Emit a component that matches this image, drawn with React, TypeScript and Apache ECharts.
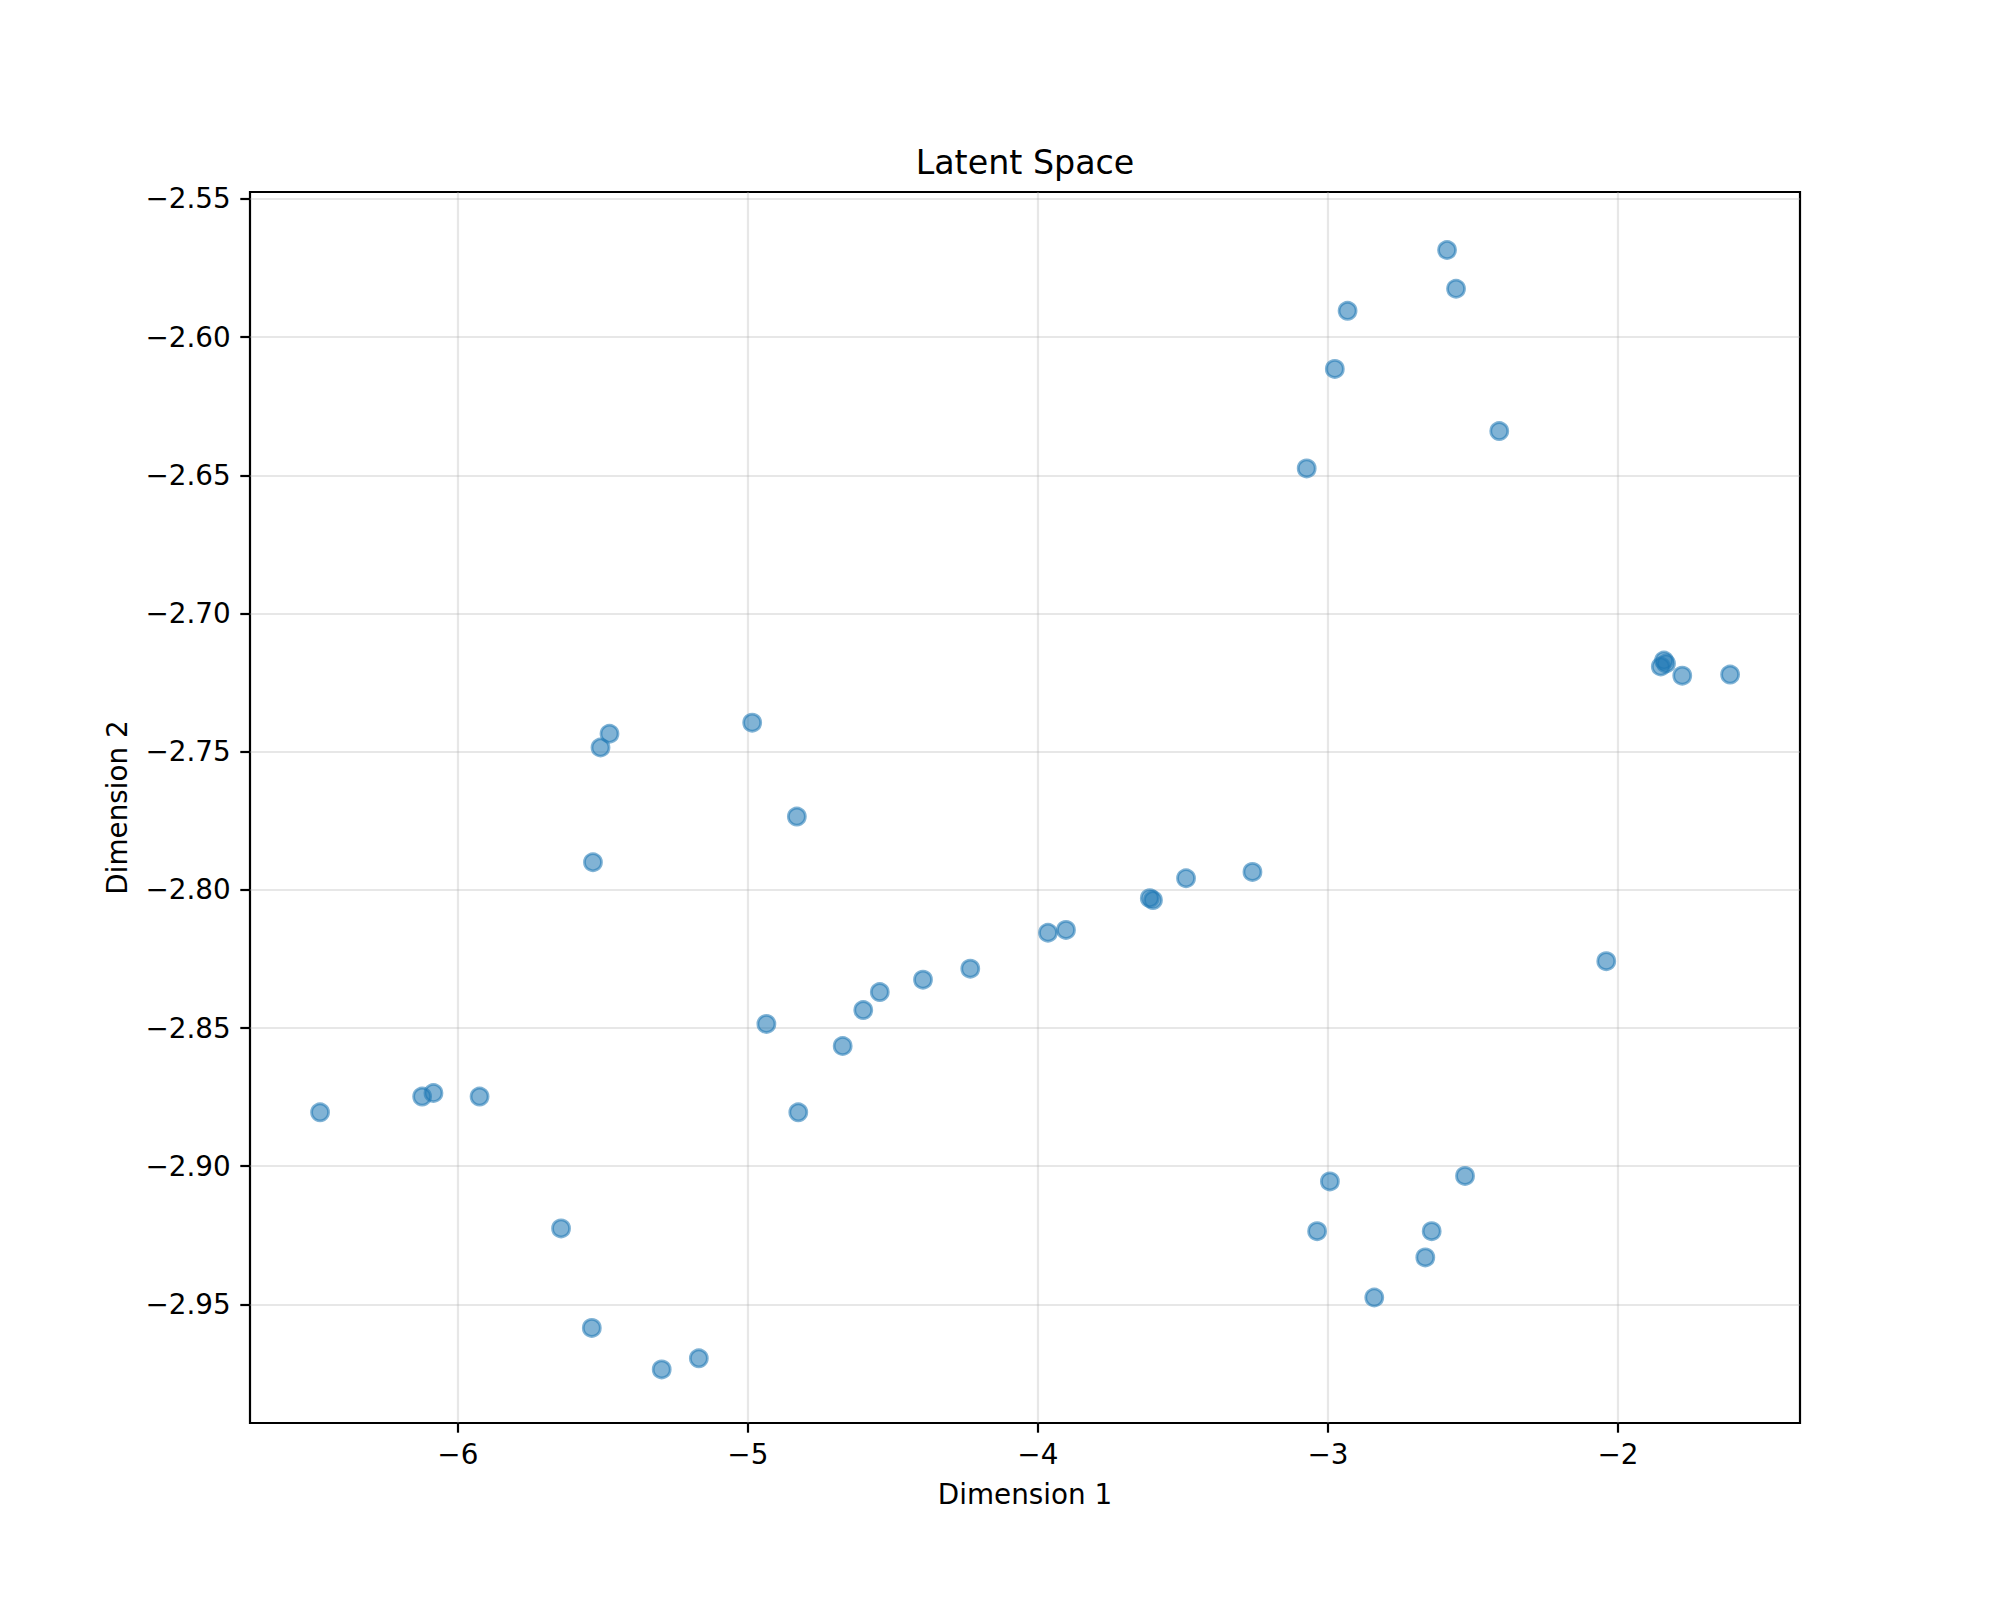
import { useEffect, useRef } from "react";
import * as echarts from "echarts";

// values, one entry per point
const DIM1 = [
  -6.475, -6.123, -6.084, -5.925, -5.644, -5.538, -5.297, -5.169, -5.534, -5.508, -5.477,
  -4.985, -4.831, -4.936, -4.826, -4.673, -4.602, -4.545, -4.396, -4.233, -3.965, -3.903,
  -3.614, -3.603, -3.489, -3.26, -3.073, -2.976, -2.932, -2.589, -2.558, -2.409, -1.852,
  -1.841, -1.834, -1.778, -1.613, -2.04, -2.993, -2.527, -3.037, -2.642, -2.664, -2.84,
];
const DIM2 = [
  -2.8805, -2.8748, -2.8735, -2.8748, -2.9225, -2.9585, -2.9735, -2.9695, -2.79, -2.7485, -2.7435,
  -2.7395, -2.7735, -2.8485, -2.8805, -2.8565, -2.8435, -2.837, -2.8325, -2.8285, -2.8155, -2.8145,
  -2.803, -2.8037, -2.7958, -2.7935, -2.6475, -2.6115, -2.5905, -2.5685, -2.5825, -2.634, -2.7192,
  -2.717, -2.7181, -2.7225, -2.7221, -2.8258, -2.9055, -2.9035, -2.9235, -2.9235, -2.933, -2.9475,
];

const X_TICKS = [-6, -5, -4, -3, -2];
const Y_TICKS = [-2.95, -2.9, -2.85, -2.8, -2.75, -2.7, -2.65, -2.6, -2.55];
const X_RANGE = [-6.7166, -1.372];
const Y_RANGE = [-2.9929, -2.5475];

const FONT = "DejaVu Sans";
const fmt = (v: number, digits: number) =>
  (v < 0 ? "\u2212" : "") + Math.abs(v).toFixed(digits);

export default function App() {
  const chartRef = useRef<HTMLDivElement>(null);

  useEffect(() => {
    if (!chartRef.current) return;
    const chart = echarts.init(chartRef.current, null, { renderer: "svg" });

    const gridLine = { show: true, lineStyle: { color: "rgba(176,176,176,0.3)", width: 2.2 } };
    const tick = { show: true, inside: false, length: 9.7, lineStyle: { color: "#000", width: 2.2 } };

    chart.setOption({
      animation: false,
      backgroundColor: "#fff",
      grid: {
        left: 250,
        right: 200,
        top: 192,
        bottom: 177,
        containLabel: false,
        outerBoundsMode: "none",
        show: true,
        borderColor: "#000",
        borderWidth: 2.2,
        backgroundColor: "transparent",
      },
      xAxis: {
        type: "value",
        min: X_RANGE[0],
        max: X_RANGE[1],
        axisLine: { show: false },
        axisTick: { ...tick, customValues: X_TICKS },
        splitLine: gridLine,
        axisLabel: {
          customValues: X_TICKS,
          margin: 17,
          color: "#000",
          fontSize: 27.8,
          fontFamily: FONT,
          formatter: (v: number) => fmt(v, 0),
        },
      },
      yAxis: {
        type: "value",
        min: Y_RANGE[0],
        max: Y_RANGE[1],
        axisLine: { show: false },
        axisTick: { ...tick, customValues: Y_TICKS },
        splitLine: gridLine,
        axisLabel: {
          customValues: Y_TICKS,
          margin: 19.4,
          color: "#000",
          fontSize: 27.8,
          fontFamily: FONT,
          formatter: (v: number) => fmt(v, 2),
        },
      },
      graphic: [
        {
          type: "text",
          x: 1025,
          y: 162.5,
          style: {
            text: "Latent Space",
            fontSize: 33.3,
            fontFamily: FONT,
            fill: "#000",
            align: "center",
            verticalAlign: "middle",
            textAlign: "center",
            textVerticalAlign: "middle",
          },
        },
        {
          type: "text",
          x: 1025,
          y: 1494,
          style: {
            text: "Dimension 1",
            fontSize: 27.8,
            fontFamily: FONT,
            fill: "#000",
            align: "center",
            verticalAlign: "middle",
            textAlign: "center",
            textVerticalAlign: "middle",
          },
        },
        {
          type: "text",
          x: 117.5,
          y: 807.5,
          rotation: Math.PI / 2,
          style: {
            text: "Dimension 2",
            fontSize: 27.8,
            fontFamily: FONT,
            fill: "#000",
            align: "center",
            verticalAlign: "middle",
            textAlign: "center",
            textVerticalAlign: "middle",
          },
        },
      ],
      series: [
        {
          type: "scatter",
          data: DIM1.map((x, i) => [x, DIM2[i]]),
          symbol: "circle",
          symbolSize: 17,
          itemStyle: {
            color: "rgba(31,119,180,0.7)",
            borderColor: "rgba(31,119,180,0.7)",
            borderWidth: 2.8,
          },
          emphasis: { disabled: true },
        },
      ],
    });

    return () => chart.dispose();
  }, []);

  return (
    <div
      ref={chartRef}
      style={{ position: "absolute", left: 0, top: 0, width: 2000, height: 1600 }}
    />
  );
}
